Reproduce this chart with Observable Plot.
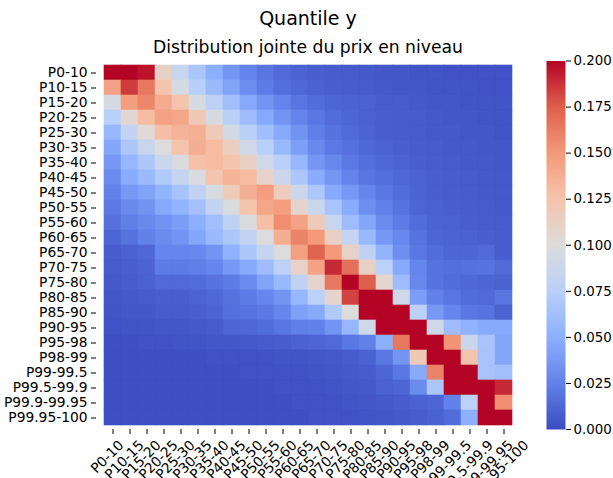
<!DOCTYPE html>
<html><head><meta charset="utf-8">
<script src="https://cdn.jsdelivr.net/npm/d3@7"></script>
<script src="https://cdn.jsdelivr.net/npm/@observablehq/plot@0.6"></script>
<style>
html,body{margin:0;padding:0;background:#fff;overflow:hidden;}
#root{position:relative;width:613px;height:478px;overflow:hidden;font-family:"DejaVu Sans",sans-serif;}
#root svg{position:absolute;left:0;top:0;}
.t{position:absolute;left:0;width:616px;text-align:center;white-space:nowrap;color:#000;line-height:1;}
</style></head><body><div id="root">
<div class="t" id="title" style="top:8.8px;font-size:19px;"></div>
<div class="t" id="subtitle" style="top:39px;font-size:17.2px;"></div>
</div>
<script>
const titleText = "Quantile y";
const subtitleText = "Distribution jointe du prix en niveau";

const quantiles = ["P0-10","P10-15","P15-20","P20-25","P25-30","P30-35","P35-40","P40-45","P45-50","P50-55","P55-60","P60-65","P65-70","P70-75","P75-80","P80-85","P85-90","P90-95","P95-98","P98-99","P99-99.5","P99.5-99.9","P99.9-99.95","P99.95-100"];

// joint distribution: one row per y quantile, columns follow x quantiles
const values = [
 [0.215,0.205,0.196,0.112,0.085,0.067,0.050,0.036,0.026,0.019,0.014,0.011,0.009,0.008,0.007,0.006,0.005,0.005,0.004,0.004,0.003,0.003,0.003,0.003],
 [0.145,0.185,0.165,0.124,0.095,0.074,0.058,0.043,0.031,0.022,0.016,0.013,0.010,0.009,0.008,0.007,0.006,0.005,0.005,0.004,0.004,0.004,0.003,0.003],
 [0.095,0.148,0.158,0.140,0.125,0.095,0.078,0.062,0.046,0.035,0.026,0.019,0.015,0.012,0.011,0.010,0.008,0.007,0.006,0.005,0.005,0.004,0.004,0.004],
 [0.075,0.105,0.130,0.145,0.143,0.120,0.096,0.075,0.060,0.046,0.035,0.026,0.020,0.015,0.012,0.010,0.009,0.008,0.007,0.006,0.005,0.005,0.004,0.004],
 [0.056,0.082,0.103,0.128,0.135,0.137,0.118,0.093,0.075,0.062,0.046,0.034,0.024,0.018,0.014,0.011,0.009,0.008,0.007,0.006,0.006,0.005,0.005,0.004],
 [0.045,0.068,0.085,0.100,0.125,0.138,0.130,0.115,0.090,0.075,0.057,0.041,0.029,0.021,0.017,0.013,0.011,0.009,0.008,0.007,0.006,0.006,0.005,0.005],
 [0.037,0.055,0.068,0.087,0.097,0.127,0.130,0.125,0.112,0.090,0.075,0.055,0.036,0.028,0.021,0.016,0.013,0.011,0.009,0.008,0.007,0.006,0.006,0.005],
 [0.030,0.048,0.058,0.070,0.083,0.097,0.124,0.135,0.130,0.110,0.088,0.068,0.048,0.036,0.026,0.019,0.016,0.013,0.011,0.009,0.008,0.007,0.006,0.006],
 [0.025,0.037,0.043,0.053,0.065,0.080,0.095,0.118,0.137,0.148,0.117,0.088,0.068,0.047,0.037,0.027,0.020,0.015,0.011,0.009,0.008,0.007,0.006,0.006],
 [0.021,0.029,0.034,0.046,0.053,0.063,0.082,0.098,0.125,0.143,0.148,0.108,0.087,0.066,0.048,0.032,0.025,0.018,0.012,0.010,0.009,0.008,0.007,0.006],
 [0.017,0.024,0.029,0.034,0.040,0.050,0.062,0.080,0.098,0.128,0.155,0.145,0.118,0.085,0.060,0.045,0.030,0.022,0.015,0.011,0.010,0.009,0.008,0.007],
 [0.012,0.018,0.025,0.030,0.035,0.045,0.058,0.068,0.082,0.100,0.138,0.160,0.150,0.112,0.083,0.057,0.037,0.028,0.018,0.012,0.011,0.010,0.009,0.008],
 [0.008,0.010,0.013,0.027,0.027,0.028,0.035,0.052,0.068,0.083,0.100,0.147,0.173,0.150,0.110,0.080,0.053,0.032,0.020,0.015,0.012,0.012,0.014,0.008],
 [0.007,0.009,0.011,0.022,0.022,0.024,0.027,0.037,0.047,0.060,0.078,0.110,0.145,0.190,0.168,0.112,0.077,0.047,0.027,0.018,0.016,0.017,0.018,0.014],
 [0.006,0.008,0.010,0.014,0.014,0.015,0.018,0.022,0.030,0.043,0.057,0.080,0.108,0.165,0.210,0.175,0.107,0.060,0.028,0.018,0.015,0.013,0.012,0.010],
 [0.005,0.006,0.007,0.009,0.009,0.011,0.013,0.018,0.022,0.027,0.035,0.055,0.077,0.108,0.183,0.220,0.210,0.090,0.040,0.025,0.019,0.015,0.014,0.019],
 [0.004,0.005,0.005,0.007,0.007,0.009,0.011,0.016,0.018,0.021,0.027,0.042,0.047,0.070,0.100,0.250,0.260,0.210,0.078,0.037,0.027,0.020,0.018,0.010],
 [0.003,0.004,0.004,0.005,0.005,0.006,0.007,0.012,0.013,0.015,0.019,0.024,0.025,0.035,0.055,0.090,0.230,0.270,0.240,0.090,0.060,0.052,0.047,0.047],
 [0.002,0.002,0.003,0.003,0.004,0.004,0.005,0.005,0.006,0.007,0.008,0.010,0.012,0.014,0.020,0.025,0.050,0.165,0.300,0.300,0.153,0.085,0.066,0.045],
 [0.002,0.002,0.002,0.002,0.002,0.002,0.003,0.003,0.003,0.003,0.004,0.004,0.005,0.006,0.008,0.010,0.020,0.035,0.120,0.300,0.300,0.125,0.066,0.045],
 [0.002,0.002,0.002,0.002,0.002,0.002,0.002,0.002,0.003,0.003,0.003,0.003,0.004,0.005,0.006,0.008,0.012,0.020,0.047,0.160,0.300,0.300,0.066,0.062],
 [0.002,0.002,0.002,0.002,0.002,0.002,0.002,0.002,0.002,0.002,0.003,0.003,0.003,0.004,0.005,0.006,0.010,0.012,0.030,0.067,0.300,0.300,0.300,0.190],
 [0.002,0.002,0.002,0.002,0.002,0.002,0.002,0.002,0.002,0.002,0.002,0.003,0.003,0.003,0.004,0.005,0.006,0.008,0.010,0.012,0.025,0.078,0.300,0.155],
 [0.002,0.002,0.002,0.002,0.002,0.002,0.002,0.002,0.002,0.002,0.002,0.002,0.003,0.003,0.003,0.004,0.005,0.006,0.008,0.010,0.015,0.050,0.300,0.300]
];

const colorbarTicks = [0, 0.025, 0.05, 0.075, 0.1, 0.125, 0.15, 0.175, 0.2];

// matplotlib "coolwarm" colour stops
const coolwarmStops = ["#3b4cc0","#6282ea","#8db0fe","#b9d0f9","#dddcdc","#f5c4ac","#f49a7b","#de604d","#b40426"];
const coolwarm = d3.piecewise(d3.interpolateRgb, coolwarmStops);
const colorScale = {type: "linear", domain: [0, 0.2], interpolate: coolwarm, clamp: true};

document.getElementById("title").textContent = titleText;
document.getElementById("subtitle").textContent = subtitleText;

const cells = values.flatMap((row, i) => row.map((v, j) => ({yq: quantiles[i], xq: quantiles[j], v})));

const W = 613, H = 478;
const mTop = 60.5, mBottom = 49;
const font = {fontFamily: "DejaVu Sans", fontSize: "13.8px", background: "transparent", overflow: "visible", color: "#000"};

const main = Plot.plot({
  width: W, height: H,
  marginLeft: 96, marginRight: 93, marginTop: mTop, marginBottom: mBottom,
  style: font,
  x: {domain: quantiles, padding: 0, label: null},
  y: {domain: quantiles, padding: 0, label: null},
  color: colorScale,
  marks: [
    Plot.cell(cells, {x: "xq", y: "yq", fill: "v", stroke: "v", strokeWidth: 0.6}),
    Plot.axisY({tickSize: 5, tickPadding: 4, label: null}),
    Plot.axisX({tickSize: 5, tickPadding: 4, tickRotate: -45, label: null})
  ]
});

const cbar = Plot.plot({
  width: W, height: H,
  marginLeft: 546, marginRight: 48, marginTop: mTop, marginBottom: mBottom,
  style: {...font, fontSize: "13.4px"},
  x: {domain: [0, 1], axis: null},
  y: {domain: [0, 0.2], axis: null},
  color: colorScale,
  marks: [
    Plot.raster({x1: 0, x2: 1, y1: 0, y2: 0.2, width: 1, height: 400, fill: (x, y) => y}),
    Plot.axisY({anchor: "right", ticks: colorbarTicks, tickFormat: d3.format(".3f"), tickSize: 5, tickPadding: 3, label: null})
  ]
});

const root = document.getElementById("root");
root.appendChild(main);
root.appendChild(cbar);

// matplotlib-style placement of rotated x tick labels (bbox centred under the tick)
const xs = main.scale("x");
const labelY = 446;
d3.select(main).selectAll('g[aria-label="x-axis tick label"]').attr("transform", null);
d3.select(main).selectAll('g[aria-label="x-axis tick label"] text').each(function() {
  const label = this.textContent;
  const cx = xs.apply(label) + (xs.bandwidth || 0) / 2;
  const L = this.getComputedTextLength();
  this.setAttribute("transform", `translate(${cx + L / (2 * Math.SQRT2) - 2},${labelY}) rotate(-45)`);
  this.setAttribute("text-anchor", "end");
  this.setAttribute("dy", "0");
  this.removeAttribute("y");
  this.removeAttribute("x");
});
</script>
</body></html>
